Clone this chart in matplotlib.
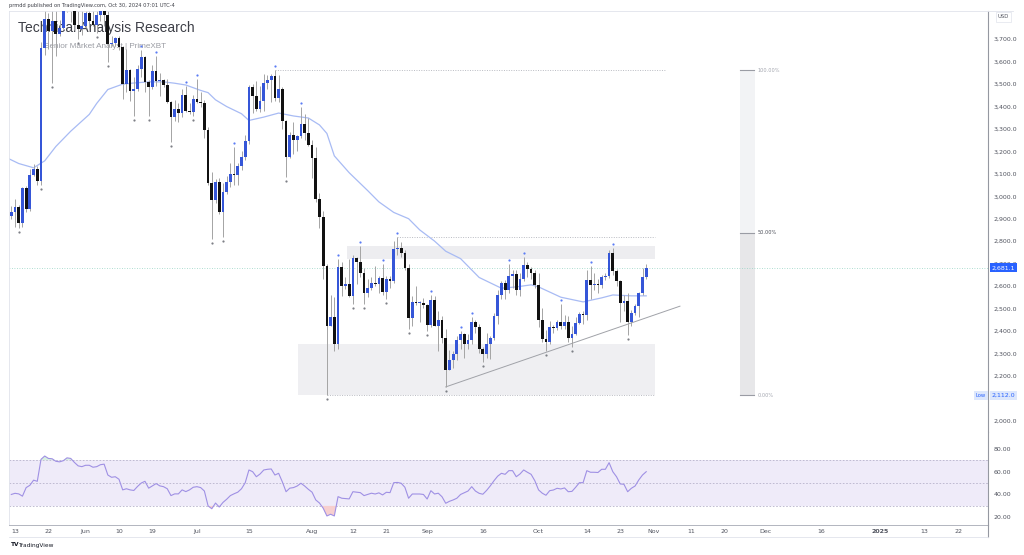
import matplotlib
matplotlib.use("Agg")
import matplotlib.pyplot as plt
import numpy as np
import pandas as pd
from matplotlib.patches import Rectangle
from matplotlib.lines import Line2D
from matplotlib.transforms import offset_copy, blended_transform_factory

# ---------------- data (ETH/USD daily) ----------------
base = pd.Timestamp("2024-05-13")
dates = pd.date_range("2024-05-12", "2024-10-30", freq="D")

opens = [
    # May 12-31
    2912, 2930, 2950, 2880, 3035, 2945, 3095, 3120, 3070, 3660, 3790, 3735, 3780, 3725, 3750, 3825, 3890, 3845, 3765, 3745,
    # Jun
    3760, 3815, 3780, 3765, 3810, 3865, 3810, 3680, 3683, 3706, 3667, 3500, 3561, 3470, 3480, 3566, 3621, 3510, 3485, 3560,
    3515, 3517, 3495, 3420, 3355, 3390, 3370, 3450, 3380, 3375,
    # Jul
    3435, 3420, 3418, 3295, 3060, 2982, 3065, 2930, 3020, 3065, 3100, 3095, 3135, 3175, 3245, 3485, 3445, 3390, 3425, 3505,
    3520, 3535, 3440, 3480, 3335, 3175, 3275, 3250, 3270, 3320, 3280,
    # Aug
    3230, 3170, 2990, 2906, 2690, 2420, 2460, 2340, 2683, 2600, 2610, 2555, 2725, 2705, 2660, 2570, 2590, 2615, 2610, 2636,
    2572, 2630, 2622, 2763, 2768, 2746, 2680, 2458, 2528, 2525, 2526,
    # Sep
    2513, 2425, 2538, 2423, 2450, 2368, 2225, 2270, 2296, 2359, 2387, 2340, 2360, 2440, 2418, 2317, 2295, 2340, 2370, 2466,
    2560, 2613, 2580, 2645, 2653, 2580, 2633, 2695, 2677, 2658,
    # Oct
    2603, 2447, 2363, 2350, 2415, 2414, 2440, 2422, 2440, 2370, 2385, 2437, 2475, 2470, 2628, 2605, 2610, 2605, 2640, 2645,
    2748, 2668, 2620, 2525, 2535, 2440, 2480, 2510, 2570, 2640,
]
highs = [
    2955, 2990, 2960, 3040, 3045, 3120, 3145, 3135, 3690, 3840, 3815, 3950, 3830, 3785, 3880, 3975, 3930, 3885, 3825, 3845,
    3835, 3840, 3850, 3830, 3890, 3880, 3840, 3715, 3710, 3714, 3672, 3657, 3567, 3530, 3586, 3650, 3625, 3518, 3586, 3626,
    3550, 3525, 3525, 3425, 3430, 3415, 3480, 3490, 3415, 3450,
    3525, 3465, 3430, 3310, 3110, 3075, 3080, 3060, 3090, 3150, 3220, 3150, 3200, 3275, 3495, 3500, 3515, 3490, 3545, 3540,
    3545, 3562, 3540, 3487, 3340, 3285, 3330, 3275, 3400, 3365, 3350,
    3250, 3220, 3015, 2935, 2700, 2558, 2550, 2720, 2705, 2640, 2720, 2740, 2730, 2780, 2680, 2630, 2640, 2690, 2645, 2700,
    2645, 2645, 2800, 2820, 2795, 2762, 2700, 2555, 2600, 2535, 2545,
    2520, 2560, 2555, 2490, 2465, 2410, 2315, 2310, 2375, 2400, 2390, 2385, 2460, 2450, 2430, 2330, 2390, 2375, 2480, 2580,
    2620, 2625, 2700, 2672, 2670, 2660, 2730, 2705, 2685, 2670,
    2660, 2500, 2405, 2442, 2428, 2450, 2520, 2470, 2465, 2420, 2460, 2485, 2490, 2670, 2690, 2660, 2630, 2650, 2660, 2760,
    2770, 2675, 2625, 2560, 2570, 2495, 2520, 2575, 2680, 2700,
]
lows = [
    2900, 2865, 2860, 2865, 2930, 2935, 3090, 3050, 3050, 3630, 3655, 3505, 3625, 3715, 3745, 3820, 3775, 3740, 3700, 3720,
    3750, 3755, 3760, 3730, 3780, 3760, 3600, 3670, 3670, 3650, 3435, 3465, 3425, 3360, 3470, 3530, 3467, 3360, 3480, 3490,
    3445, 3485, 3415, 3240, 3335, 3330, 3355, 3375, 3365, 3360,
    3415, 3400, 3260, 3050, 2810, 2970, 2920, 2820, 3010, 3040, 3050, 3050, 3115, 3160, 3235, 3370, 3380, 3375, 3380, 3480,
    3420, 3425, 3420, 3300, 3087, 3170, 3190, 3200, 3260, 3250, 3225,
    3080, 2975, 2858, 2630, 2112, 2420, 2310, 2320, 2555, 2585, 2550, 2520, 2610, 2640, 2520, 2550, 2580, 2600, 2570, 2560,
    2540, 2590, 2615, 2740, 2730, 2670, 2410, 2420, 2515, 2440, 2500,
    2400, 2415, 2420, 2310, 2345, 2150, 2225, 2235, 2270, 2320, 2280, 2320, 2340, 2390, 2300, 2260, 2280, 2275, 2360, 2430,
    2540, 2540, 2570, 2590, 2560, 2555, 2620, 2640, 2630, 2590,
    2415, 2350, 2310, 2342, 2390, 2404, 2410, 2410, 2350, 2330, 2380, 2430, 2430, 2450, 2540, 2580, 2570, 2590, 2625, 2635,
    2650, 2600, 2440, 2490, 2380, 2420, 2470, 2460, 2560, 2630,
]
closes = [
    2930, 2950, 2880, 3035, 2945, 3095, 3120, 3070, 3660, 3790, 3735, 3780, 3725, 3750, 3825, 3890, 3845, 3765, 3745, 3760,
    3815, 3780, 3765, 3810, 3865, 3810, 3680, 3683, 3706, 3667, 3500, 3561, 3470, 3480, 3566, 3621, 3510, 3485, 3560, 3515,
    3517, 3495, 3420, 3355, 3390, 3370, 3450, 3380, 3375, 3435,
    3420, 3418, 3295, 3060, 2982, 3065, 2930, 3020, 3065, 3100, 3095, 3135, 3175, 3245, 3485, 3445, 3390, 3425, 3505, 3520,
    3535, 3440, 3480, 3335, 3175, 3275, 3250, 3270, 3320, 3280, 3230,
    3170, 2990, 2906, 2690, 2420, 2460, 2340, 2683, 2600, 2610, 2555, 2725, 2705, 2660, 2570, 2590, 2615, 2610, 2636, 2572,
    2630, 2622, 2763, 2768, 2746, 2680, 2458, 2528, 2525, 2526, 2513,
    2425, 2538, 2423, 2450, 2368, 2225, 2270, 2296, 2359, 2387, 2340, 2360, 2440, 2418, 2317, 2295, 2340, 2370, 2466, 2560,
    2613, 2580, 2645, 2653, 2580, 2633, 2695, 2677, 2658, 2603,
    2447, 2363, 2350, 2415, 2414, 2440, 2422, 2440, 2370, 2385, 2437, 2475, 2470, 2628, 2605, 2610, 2605, 2640, 2645, 2748,
    2668, 2620, 2525, 2535, 2440, 2480, 2510, 2570, 2640, 2681.1,
]

rsi = [
    40, 41, 40.5, 38.5, 46, 48, 52.5, 51.5, 70.7, 73.6, 71.5, 71.2, 69, 68.5, 69.5, 72, 71.5, 68, 65, 64.3,
    65.5, 65.5, 63.8, 64.3, 66, 66.5, 57, 55, 55.5, 53.3, 44, 45, 44, 43.5, 47, 50, 51.5, 45.5, 47.5, 49.5,
    47.5, 46.8, 45, 39, 40.5, 40.5, 44, 42.5, 44, 46.3,
    46.8, 46, 43, 30, 27.5, 32.5, 29, 33, 35.8, 39, 40.6, 42, 45, 50.3, 61.4, 59.9, 55.5, 57.9, 61.4, 62,
    62.3, 57, 58.5, 51, 42.4, 45.5, 46, 47.4, 49.8, 47.4, 44.5,
    42, 35.2, 32.5, 28, 21.2, 22.7, 21.2, 38.1, 36.7, 36.4, 36.1, 42.4, 42, 41.6, 39, 40, 41.1, 40.4, 41.4, 39.6,
    41.9, 41.6, 50.3, 50.5, 49.8, 46.3, 36.7, 40.4, 40.4, 40.4, 40,
    36, 43.3, 40.4, 41.1, 38, 32.3, 34, 35.2, 36.7, 40, 41.5, 43, 46.8, 43, 41, 40.2, 43.5, 47.5, 52, 56,
    58.5, 57.6, 60.8, 60.8, 55.5, 57.9, 61.4, 59.4, 57.6, 52,
    44, 41.1, 39.3, 43.3, 43.9, 45.4, 44.8, 45.7, 42.4, 42.7, 46.3, 50.3, 50.3, 60.8, 59.4, 59.4, 59.2, 62, 62, 67.8,
    59.9, 55.5, 49.2, 48.9, 42.4, 45.4, 47.4, 52.7, 57, 59.9,
]

# moving average, read at points along the line
ma_dates = ["2024-05-11", "2024-05-14", "2024-05-18", "2024-05-21", "2024-05-24", "2024-05-28", "2024-06-02",
            "2024-06-04", "2024-06-07", "2024-06-11", "2024-06-14", "2024-06-18", "2024-06-22", "2024-06-25",
            "2024-06-28", "2024-07-02", "2024-07-04", "2024-07-06", "2024-07-09", "2024-07-13", "2024-07-15",
            "2024-07-19", "2024-07-23", "2024-07-27", "2024-07-31", "2024-08-03", "2024-08-05", "2024-08-07",
            "2024-08-11", "2024-08-16", "2024-08-19", "2024-08-23", "2024-08-27", "2024-08-30", "2024-09-03",
            "2024-09-06", "2024-09-10", "2024-09-15", "2024-09-21", "2024-09-25", "2024-09-29", "2024-10-01",
            "2024-10-07", "2024-10-13", "2024-10-18", "2024-10-21", "2024-10-26", "2024-10-30"]
ma_vals = [3170, 3146, 3127, 3158, 3222, 3290, 3365, 3414, 3476, 3500, 3505, 3510, 3510, 3504,
           3496, 3472, 3462, 3430, 3400, 3368, 3338, 3353, 3371, 3358, 3349, 3318, 3280, 3180,
           3105, 3025, 2975, 2928, 2900, 2850, 2800, 2755, 2722, 2638, 2590, 2596, 2605, 2596,
           2550, 2529, 2547, 2560, 2556, 2556]

pivot_high_dates = ["2024-06-16", "2024-06-20", "2024-06-28", "2024-07-01", "2024-07-11", "2024-07-22",
                    "2024-07-29", "2024-08-08", "2024-08-14", "2024-08-20", "2024-08-24", "2024-09-02",
                    "2024-09-10", "2024-09-13", "2024-09-23", "2024-09-27", "2024-10-07", "2024-10-15",
                    "2024-10-21"]
pivot_low_dates = ["2024-05-14", "2024-05-20", "2024-05-23", "2024-05-30", "2024-06-04", "2024-06-07",
                   "2024-06-14", "2024-06-18", "2024-06-24", "2024-06-30", "2024-07-05", "2024-07-08",
                   "2024-07-25", "2024-08-05", "2024-08-12", "2024-08-15", "2024-08-21", "2024-08-27",
                   "2024-09-01", "2024-09-06", "2024-09-16", "2024-10-03", "2024-10-10", "2024-10-25"]

fib_high = 3562.0
fib_low = 2112.0
last_price = 2681.1

date_ticks = ["2024-05-13", "2024-05-22", "2024-06-01", "2024-06-10", "2024-06-19", "2024-07-01",
              "2024-07-15", "2024-08-01", "2024-08-12", "2024-08-21", "2024-09-01", "2024-09-16",
              "2024-10-01", "2024-10-14", "2024-10-23", "2024-11-01", "2024-11-11", "2024-11-20",
              "2024-12-01", "2024-12-16", "2025-01-01", "2025-01-13", "2025-01-22"]
date_labels = ["13", "22", "Jun", "10", "19", "Jul", "15", "Aug", "12", "21", "Sep", "16",
               "Oct", "14", "23", "Nov", "11", "20", "Dec", "16", "2025", "13", "22"]


def day(s):
    return (pd.Timestamp(s) - base) / pd.Timedelta(days=1)


BLUE = "#3556d8"
BLACK = "#111111"
WICK = "#a4a4a4"
GRID = "#e0e3eb"
AXTXT = "#50535e"

# ---------------- figure layout ----------------
W, H = 1024, 555
fig = plt.figure(figsize=(W / 100, H / 100), dpi=100)
fig.patch.set_facecolor("white")


def fx(px):
    return px / W


def fy(py):
    return 1 - py / H


ax = fig.add_axes([fx(9), fy(432), (988 - 9) / W, (432 - 11) / H])
rx = fig.add_axes([fx(9), fy(525), (988 - 9) / W, (525 - 432) / H], sharex=ax)

x = np.array([day(d) for d in dates])
o = np.array(opens, dtype=float)
h = np.array(highs, dtype=float)
l = np.array(lows, dtype=float)
c = np.array(closes, dtype=float)
up = c >= o

# ---------------- main price pane ----------------
ax.set_xlim(-1.62, 262.05)
ax.set_ylim(1949, 3826)

# zones
ax.add_patch(Rectangle((day("2024-07-28 05:00"), 2112), day("2024-11-01 10:00") - day("2024-07-28 05:00"),
                       2340 - 2112, facecolor="#efeff2", edgecolor="none", zorder=0.5))
ax.add_patch(Rectangle((day("2024-08-10 10:00"), 2721), day("2024-11-01 10:00") - day("2024-08-10 10:00"),
                       2779 - 2721, facecolor="#ededf0", edgecolor="none", zorder=0.5))

dot = (0, (1, 1.5))
ax.plot([day("2024-07-22"), day("2024-11-04")], [fib_high, fib_high], color="#b9bbc2", lw=0.7, ls=dot, zorder=0.8)
ax.plot([day("2024-08-24"), day("2024-11-01 10:00")], [2820, 2820], color="#b9bbc2", lw=0.7, ls=dot, zorder=0.8)
ax.plot([day("2024-08-05"), day("2024-11-01 10:00")], [fib_low, fib_low], color="#b9bbc2", lw=0.7, ls=dot, zorder=0.8)

# trend line
ax.plot([day("2024-09-06"), day("2024-11-08 02:00")], [2150, 2510], color="#a0a2a8", lw=0.7, zorder=0.9)

# fib bar
fib_mid = (fib_high + fib_low) / 2
f0, f1 = day("2024-11-24 06:00"), day("2024-11-28 07:00")
ax.add_patch(Rectangle((f0, fib_mid), f1 - f0, fib_high - fib_mid, facecolor="#f2f3f5", edgecolor="none", zorder=0.5))
ax.add_patch(Rectangle((f0, fib_low), f1 - f0, fib_mid - fib_low, facecolor="#e7e7e9", edgecolor="none", zorder=0.5))
for lvl, txt, col in [(fib_high, "100.00%", "#a3a6af"), (fib_mid, "50.00%", "#4a4d57"), (fib_low, "0.00%", "#a3a6af")]:
    ax.plot([f0, f1 - 0.2], [lvl, lvl], color="#9a9ca4", lw=0.8, zorder=0.9)
    ax.text(f1 + 0.8, lvl, txt, fontsize=3.6, color=col, va="center", ha="left", zorder=1)

# last price line
ax.axhline(last_price, color="#95d3c3", lw=0.6, ls=(0, (1, 2)), zorder=0.9)

# moving average
ax.plot([day(d) for d in ma_dates], ma_vals, color="#a8bbf4", lw=0.9, zorder=1.5)

# title (sits under candles)
ax.text((18 - 9) / 979, (432 - 28) / 421, "Technical Analysis Research", transform=ax.transAxes,
        fontsize=10, family="Liberation Sans", color="#3d3f47", va="center", ha="left", zorder=1)
ax.text((44 - 9) / 979, (432 - 47) / 421, "Senior Market Analyst | PrimeXBT", transform=ax.transAxes,
        fontsize=5.9, family="Liberation Sans", color="#9a9ca3", va="center", ha="left", zorder=1)

# candles
ax.vlines(x, l, h, color=WICK, lw=0.7, zorder=2)
body_lo = np.minimum(o, c)
body_h = np.maximum(np.abs(c - o), 4)
ax.bar(x[up], body_h[up], bottom=body_lo[up], width=0.74, color=BLUE, linewidth=0, zorder=3)
ax.bar(x[~up], body_h[~up], bottom=body_lo[~up], width=0.74, color=BLACK, linewidth=0, zorder=3)

# pivot markers
idx = {d: i for i, d in enumerate(dates)}
hi_i = [idx[pd.Timestamp(s)] for s in pivot_high_dates]
lo_i = [idx[pd.Timestamp(s)] for s in pivot_low_dates]
hi_tr = offset_copy(ax.transData, fig=fig, x=0, y=4, units="dots")
lo_tr = offset_copy(ax.transData, fig=fig, x=0, y=-4, units="dots")
ax.plot(x[hi_i], h[hi_i], "o", ms=1.6, color="#5b7cf5", mec="none", transform=hi_tr, zorder=3)
ax.plot(x[lo_i], l[lo_i], "o", ms=1.6, color="#7d7f86", mec="none", transform=lo_tr, zorder=3)

# price axis
ax.yaxis.tick_right()
yt = [v for v in range(2000, 3701, 100) if v != 2100]
ax.set_yticks(yt)
ax.set_yticklabels([f"{v:,.1f}" for v in yt])
ax.tick_params(axis="y", length=0, pad=4, labelsize=4.5, labelcolor=AXTXT)
ax.tick_params(axis="x", bottom=False, labelbottom=False)
for s in ["left", "top", "bottom"]:
    ax.spines[s].set_color(GRID)
    ax.spines[s].set_linewidth(0.6)
ax.spines["right"].set_color("#9598a1")
ax.spines["right"].set_linewidth(0.8)

bt = blended_transform_factory(ax.transAxes, ax.transData)
ax.text(1 + 4 / 979, last_price, "2,681.1", transform=bt, fontsize=4.5, color="white", va="center", ha="left",
        bbox=dict(boxstyle="square,pad=0.3", fc="#2962ff", ec="none"), clip_on=False, zorder=10)
ax.text(1 + 4 / 979, fib_low, "2,112.0", transform=bt, fontsize=4.5, color="#2962ff", va="center", ha="left",
        bbox=dict(boxstyle="square,pad=0.3", fc="#dde7fc", ec="none"), clip_on=False, zorder=10)
ax.text(1 - 2 / 979, fib_low, "Low", transform=bt, fontsize=3.8, color="#2962ff", va="center", ha="right",
        bbox=dict(boxstyle="square,pad=0.3", fc="#dde7fc", ec="none"), clip_on=False, zorder=10)

# ---------------- RSI pane ----------------
r = np.array(rsi, dtype=float)
rx.set_ylim(13.3, 94.6)
rx.axhspan(30, 70, facecolor="#efebf9", edgecolor="none", zorder=0)
for lvl in (70, 50, 30):
    rx.axhline(lvl, color="#b7b2cb", lw=0.6, ls=(0, (2, 2)), zorder=0.5)
rx.fill_between(x, r, 30, where=r < 30, interpolate=True, color="#f7cfcf", lw=0, zorder=1)
rx.fill_between(x, r, 70, where=r > 70, interpolate=True, color="#d8f0e0", lw=0, zorder=1)
rx.plot(x, r, color="#9f90e4", lw=0.8, zorder=2)

rx.yaxis.tick_right()
rx.set_yticks([20, 40, 60, 80])
rx.set_yticklabels(["20.00", "40.00", "60.00", "80.00"])
rx.tick_params(axis="y", length=0, pad=4, labelsize=4.5, labelcolor=AXTXT)
rx.set_xticks([day(d) for d in date_ticks])
rx.set_xticklabels(date_labels)
rx.tick_params(axis="x", length=0, pad=3, labelsize=4.5, labelcolor=AXTXT)
for t in rx.get_xticklabels():
    if t.get_text() == "2025":
        t.set_fontweight("bold")
rx.spines["top"].set_visible(False)
rx.spines["left"].set_color(GRID)
rx.spines["left"].set_linewidth(0.6)
rx.spines["bottom"].set_color("#b2b5be")
rx.spines["bottom"].set_linewidth(0.7)
rx.spines["right"].set_color("#9598a1")
rx.spines["right"].set_linewidth(0.8)

# ---------------- frame bits and captions ----------------
fig.add_artist(Line2D([fx(988), fx(988)], [fy(525), fy(537)], color="#9598a1", lw=0.8))
fig.add_artist(Line2D([fx(9), fx(988)], [fy(537), fy(537)], color=GRID, lw=0.6))
fig.add_artist(Line2D([fx(988), fx(1013)], [fy(11), fy(11)], color=GRID, lw=0.6))

fig.text(fx(998), fy(17), "USD", fontsize=3.8, color=AXTXT, va="center", ha="left",
         bbox=dict(boxstyle="square,pad=0.4", fc="white", ec=GRID, lw=0.5))
fig.text(fx(9), fy(5.5), "prmdd published on TradingView.com, Oct 30, 2024 07:01 UTC-4",
         fontsize=3.7, color="#3d3f47", va="center", ha="left")
fig.text(fx(11), fy(545), "TV", fontsize=4.2, fontweight="bold", color="#131722", va="center", ha="left")
fig.text(fx(18), fy(545), "TradingView", fontsize=4.2, color="#131722", va="center", ha="left")

fig.savefig("out.png", dpi=100)
